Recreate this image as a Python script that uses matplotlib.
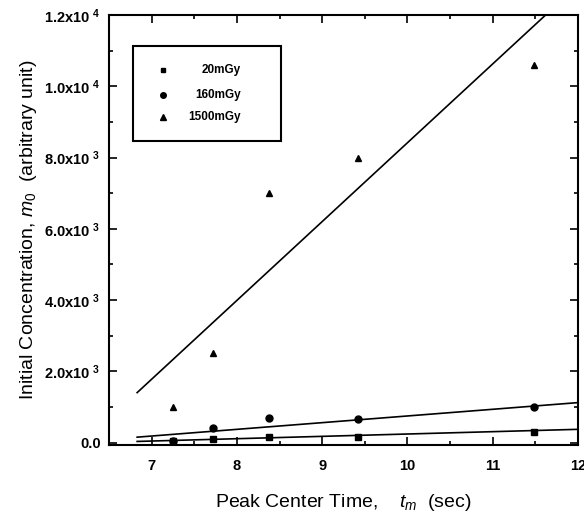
import numpy as np
import matplotlib
matplotlib.use("Agg")
import matplotlib.pyplot as plt
from matplotlib.ticker import MultipleLocator, FixedLocator, FixedFormatter
from matplotlib.patches import Rectangle

plt.rcParams['font.family'] = ['Liberation Sans', 'DejaVu Sans']
plt.rcParams['mathtext.fontset'] = 'custom'
plt.rcParams['mathtext.rm'] = 'Liberation Sans'
plt.rcParams['mathtext.it'] = 'Liberation Sans:italic'
plt.rcParams['mathtext.bf'] = 'Liberation Sans:bold'

# Data
t_peak = [7.25, 7.72, 8.38, 9.42, 11.48]
m0_20 = [30, 100, 150, 150, 300]
m0_160 = [50, 400, 700, 650, 1000]
m0_1500 = [1000, 2500, 7000, 8000, 10600]

fit_x = [6.83, 12.0]
fit_20 = [30, 370]
fit_160 = [150, 1120]
fit_1500 = [1400, 12840]

series_labels = ['20mGy', '160mGy', '1500mGy']
y_ticks = [0, 2000, 4000, 6000, 8000, 10000, 12000]
y_ticklabels = ['0.0', r'2.0x10 $^{\mathbf{3}}$', r'4.0x10 $^{\mathbf{3}}$', r'6.0x10 $^{\mathbf{3}}$',
                r'8.0x10 $^{\mathbf{3}}$', r'1.0x10 $^{\mathbf{4}}$', r'1.2x10 $^{\mathbf{4}}$']

fig = plt.figure(figsize=(5.84, 5.16), dpi=100)
ax = fig.add_axes([109/584, 1 - 445/516, (578-109)/584, (445-15)/516])

ax.plot(fit_x, fit_20, color='black', lw=1.2)
ax.plot(fit_x, fit_160, color='black', lw=1.2)
ax.plot(fit_x, fit_1500, color='black', lw=1.2)
ax.plot(t_peak, m0_20, ls='none', marker='s', ms=4, color='black')
ax.plot(t_peak, m0_160, ls='none', marker='o', ms=5, color='black')
ax.plot(t_peak, m0_1500, ls='none', marker='^', ms=5, color='black')

ax.set_xlim(6.5, 12.0)
ax.set_ylim(-70, 12000)
ax.xaxis.set_major_locator(MultipleLocator(1))
ax.xaxis.set_minor_locator(MultipleLocator(0.5))
ax.yaxis.set_major_locator(FixedLocator(y_ticks))
ax.yaxis.set_major_formatter(FixedFormatter(y_ticklabels))
ax.yaxis.set_minor_locator(MultipleLocator(1000))
ax.tick_params(which='both', direction='in', top=True, right=True, width=1.2)
ax.tick_params(which='major', length=6, labelsize=10.5)
ax.tick_params(which='minor', length=3)
ax.tick_params(axis='x', pad=10)
ax.tick_params(axis='y', pad=6)
for lab in ax.get_xticklabels() + ax.get_yticklabels():
    lab.set_fontweight('bold')
for s in ax.spines.values():
    s.set_linewidth(1.5)

ax.set_xlabel(r'Peak Center Time,    $t_{m}$  (sec)', fontsize=14, labelpad=14)
ax.set_ylabel(r'Initial Concentration, $m_{0}$  (arbitrary unit)', fontsize=14, labelpad=4)

# legend box
x0, x1 = (133-109)/469, (281-109)/469
y0, y1 = (445-141)/430, (445-46)/430
ax.add_patch(Rectangle((x0, y0), x1 - x0, y1 - y0, transform=ax.transAxes,
                       fill=False, lw=1.5, color='black', zorder=5))
rows = [70, 95, 117]
markers = [('s', 3.5), ('o', 4), ('^', 4)]
for lbl, ry, (mk, ms) in zip(series_labels, rows, markers):
    ya = (445 - ry)/430
    ax.plot([(163-109)/469], [ya], marker=mk, ms=ms, color='black', transform=ax.transAxes, ls='none')
    ax.text((241-109)/469, ya, lbl, transform=ax.transAxes, ha='right', va='center',
            fontsize=8.5, fontweight='bold')

fig.savefig('out.png', dpi=100)
